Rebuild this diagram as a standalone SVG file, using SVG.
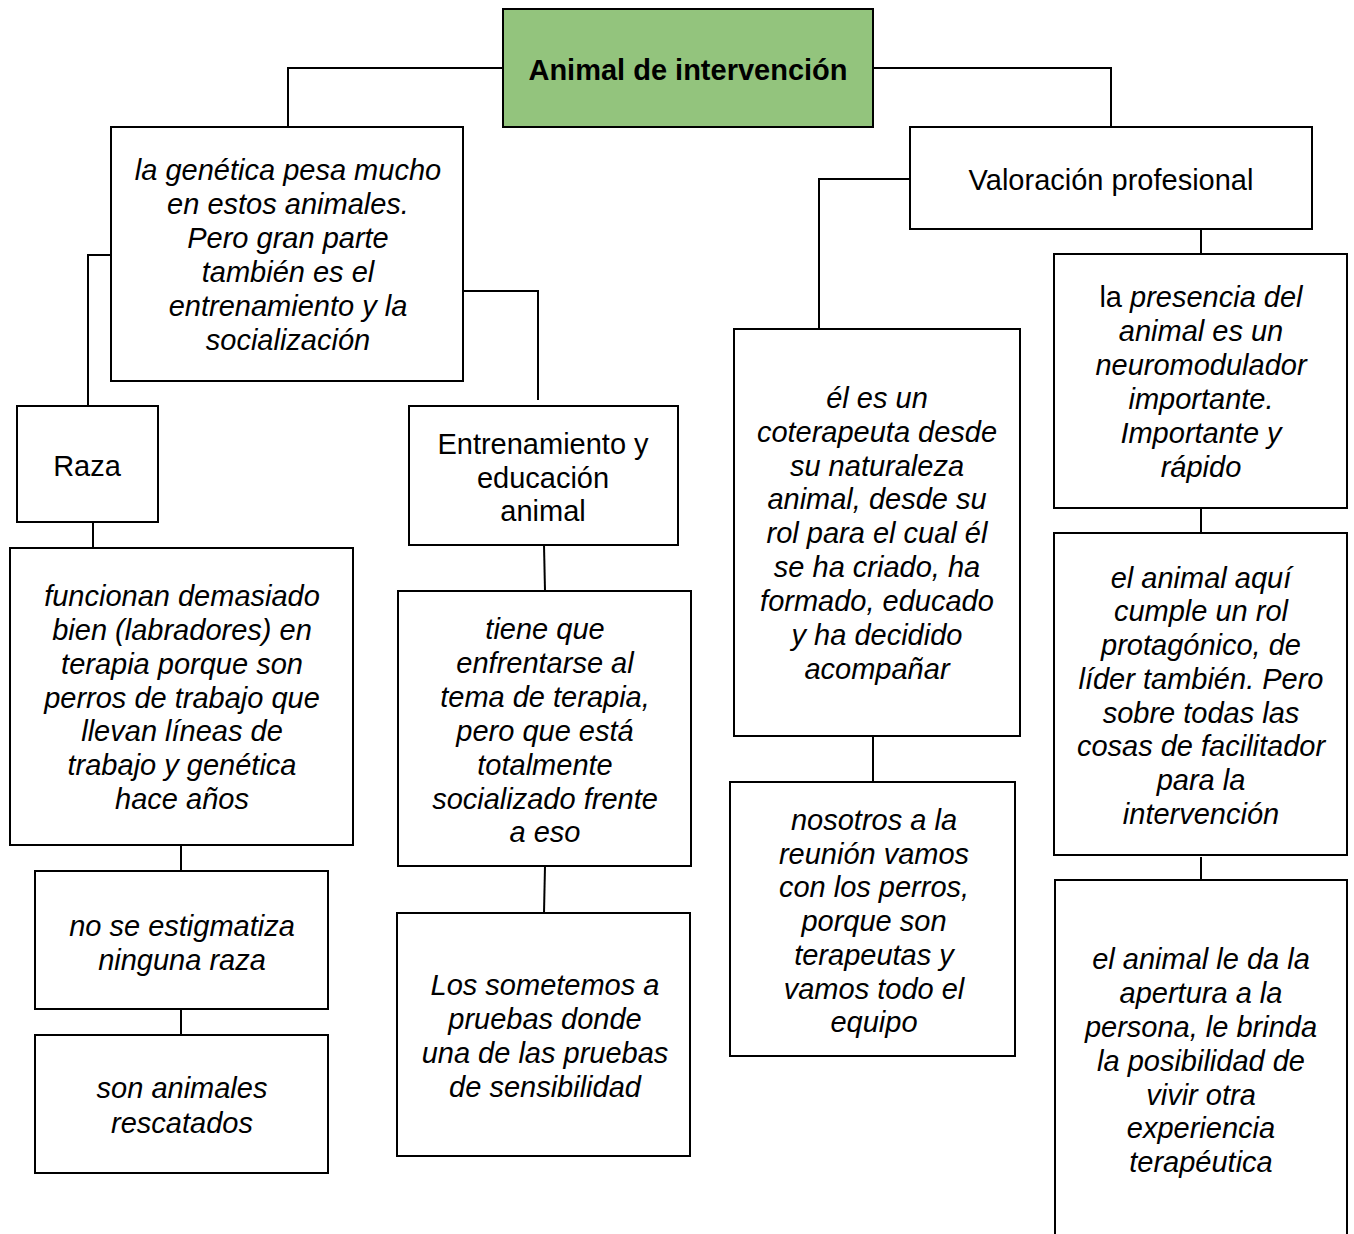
<svg xmlns="http://www.w3.org/2000/svg" width="1354" height="1234" viewBox="0 0 1354 1234">
<style>
.box{fill:#fff;stroke:#000;stroke-width:2}
.root{fill:#93c47d;stroke:#000;stroke-width:2}
.c{fill:none;stroke:#000;stroke-width:2}
text{font-family:"Liberation Sans",Arial,sans-serif;font-size:29px;fill:#000;text-anchor:middle}
.i{font-style:italic}
.b{font-weight:bold}
</style>
<rect width="1354" height="1234" fill="#fff"/>
<g id="connectors">
<polyline class="c" points="503,68 288,68 288,127"/>
<polyline class="c" points="873,68 1111,68 1111,127"/>
<polyline class="c" points="111,255 88,255 88,406"/>
<polyline class="c" points="463,291 538,291 538,400"/>
<line class="c" x1="93" y1="522" x2="93" y2="548"/>
<line class="c" x1="181" y1="845" x2="181" y2="871"/>
<line class="c" x1="181" y1="1009" x2="181" y2="1035"/>
<line class="c" x1="544" y1="545" x2="545" y2="591"/>
<line class="c" x1="545" y1="866" x2="544" y2="913"/>
<polyline class="c" points="910,179 819,179 819,330"/>
<line class="c" x1="873" y1="736" x2="873" y2="782"/>
<line class="c" x1="1201" y1="229" x2="1201" y2="254"/>
<line class="c" x1="1201" y1="506" x2="1201" y2="533"/>
<line class="c" x1="1201" y1="857" x2="1201" y2="884"/>
</g>
<g id="root">
<rect class="root" x="503" y="9" width="370" height="118"/>
<text class="b" x="688" y="80">Animal de intervención</text>
</g>
<g id="genetica">
<rect class="box" x="111" y="127" width="352" height="254"/>
<text class="i"><tspan x="288" y="180">la genética pesa mucho</tspan><tspan x="288" y="214">en estos animales.</tspan><tspan x="288" y="248">Pero gran parte</tspan><tspan x="288" y="282">también es el</tspan><tspan x="288" y="316">entrenamiento y la</tspan><tspan x="288" y="350">socialización</tspan></text>
</g>
<g id="raza">
<rect class="box" x="17" y="406" width="141" height="116"/>
<text x="87" y="476">Raza</text>
</g>
<g id="entrenamiento">
<rect class="box" x="409" y="406" width="269" height="139"/>
<text><tspan x="543" y="454">Entrenamiento y</tspan><tspan x="543" y="488">educación</tspan><tspan x="543" y="521">animal</tspan></text>
</g>
<g id="funcionan">
<rect class="box" x="10" y="548" width="343" height="297"/>
<text class="i"><tspan x="182" y="606">funcionan demasiado</tspan><tspan x="182" y="640">bien (labradores) en</tspan><tspan x="182" y="674">terapia porque son</tspan><tspan x="182" y="708">perros de trabajo que</tspan><tspan x="182" y="741">llevan líneas de</tspan><tspan x="182" y="775">trabajo y genética</tspan><tspan x="182" y="809">hace años</tspan></text>
</g>
<g id="estigmatiza">
<rect class="box" x="35" y="871" width="293" height="138"/>
<text class="i"><tspan x="182" y="936">no se estigmatiza</tspan><tspan x="182" y="970">ninguna raza</tspan></text>
</g>
<g id="rescatados">
<rect class="box" x="35" y="1035" width="293" height="138"/>
<text class="i"><tspan x="182" y="1098">son animales</tspan><tspan x="182" y="1133">rescatados</tspan></text>
</g>
<g id="tieneque">
<rect class="box" x="398" y="591" width="293" height="275"/>
<text class="i"><tspan x="545" y="639">tiene que</tspan><tspan x="545" y="673">enfrentarse al</tspan><tspan x="545" y="707">tema de terapia,</tspan><tspan x="545" y="741">pero que está</tspan><tspan x="545" y="775">totalmente</tspan><tspan x="545" y="809">socializado frente</tspan><tspan x="545" y="842">a eso</tspan></text>
</g>
<g id="sometemos">
<rect class="box" x="397" y="913" width="293" height="243"/>
<text class="i"><tspan x="545" y="995">Los sometemos a</tspan><tspan x="545" y="1029">pruebas donde</tspan><tspan x="545" y="1063">una de las pruebas</tspan><tspan x="545" y="1097">de sensibilidad</tspan></text>
</g>
<g id="valoracion">
<rect class="box" x="910" y="127" width="402" height="102"/>
<text x="1111" y="190">Valoración profesional</text>
</g>
<g id="coterapeuta">
<rect class="box" x="734" y="329" width="286" height="407"/>
<text class="i"><tspan x="877" y="408">él es un</tspan><tspan x="877" y="442">coterapeuta desde</tspan><tspan x="877" y="476">su naturaleza</tspan><tspan x="877" y="509">animal, desde su</tspan><tspan x="877" y="543">rol para el cual él</tspan><tspan x="877" y="577">se ha criado, ha</tspan><tspan x="877" y="611">formado, educado</tspan><tspan x="877" y="645">y ha decidido</tspan><tspan x="877" y="679">acompañar</tspan></text>
</g>
<g id="nosotros">
<rect class="box" x="730" y="782" width="285" height="274"/>
<text class="i"><tspan x="874" y="830">nosotros a la</tspan><tspan x="874" y="864">reunión vamos</tspan><tspan x="874" y="897">con los perros,</tspan><tspan x="874" y="931">porque son</tspan><tspan x="874" y="965">terapeutas y</tspan><tspan x="874" y="999">vamos todo el</tspan><tspan x="874" y="1032">equipo</tspan></text>
</g>
<g id="presencia">
<rect class="box" x="1054" y="254" width="293" height="254"/>
<text><tspan x="1201" y="307">la <tspan class="i">presencia del</tspan></tspan><tspan class="i" x="1201" y="341">animal es un</tspan><tspan class="i" x="1201" y="375">neuromodulador</tspan><tspan class="i" x="1201" y="409">importante.</tspan><tspan class="i" x="1201" y="443">Importante y</tspan><tspan class="i" x="1201" y="477">rápido</tspan></text>
</g>
<g id="protagonico">
<rect class="box" x="1054" y="533" width="293" height="322"/>
<text class="i"><tspan x="1201" y="588">el animal aquí</tspan><tspan x="1201" y="621">cumple un rol</tspan><tspan x="1201" y="655">protagónico, de</tspan><tspan x="1201" y="689">líder también. Pero</tspan><tspan x="1201" y="723">sobre todas las</tspan><tspan x="1201" y="756">cosas de facilitador</tspan><tspan x="1201" y="790">para la</tspan><tspan x="1201" y="824">intervención</tspan></text>
</g>
<g id="apertura">
<rect class="box" x="1055" y="880" width="292" height="370"/>
<text class="i"><tspan x="1201" y="969">el animal le da la</tspan><tspan x="1201" y="1003">apertura a la</tspan><tspan x="1201" y="1037">persona, le brinda</tspan><tspan x="1201" y="1071">la posibilidad de</tspan><tspan x="1201" y="1105">vivir otra</tspan><tspan x="1201" y="1138">experiencia</tspan><tspan x="1201" y="1172">terapéutica</tspan></text>
</g>
</svg>
